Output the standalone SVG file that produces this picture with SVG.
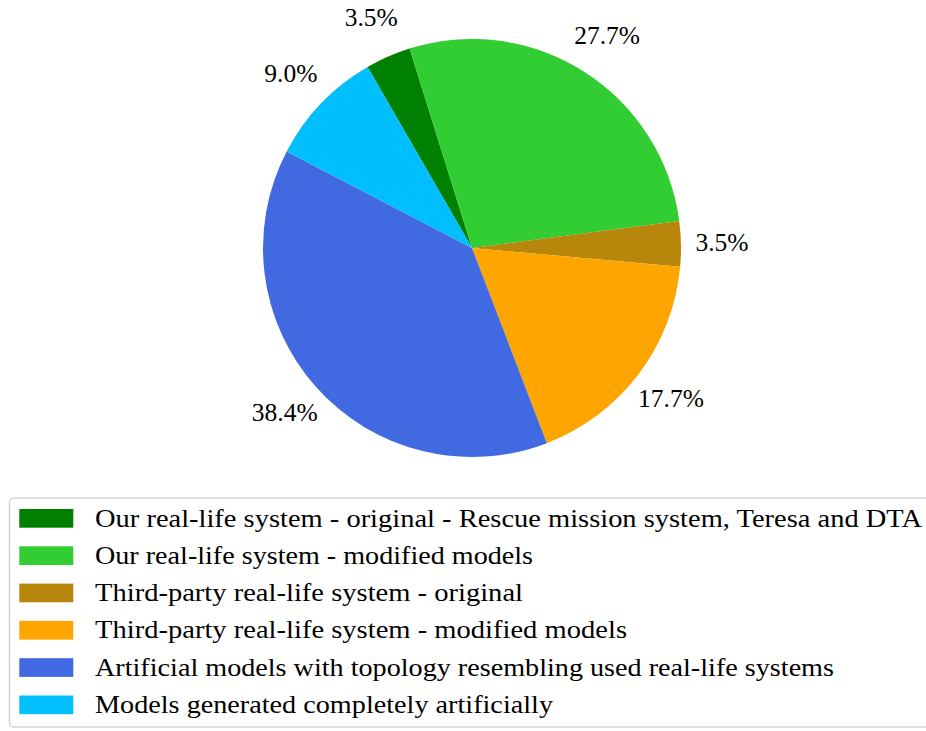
<svg xmlns="http://www.w3.org/2000/svg" width="926" height="731" viewBox="0 0 926 731">
<style>
.pct{font-family:'Times New Roman','Liberation Serif','DejaVu Serif',Times,serif;font-size:25.5px;fill:#000;text-anchor:middle}
.lg{font-family:'Times New Roman','Liberation Serif','DejaVu Serif',Times,serif;font-size:26px;fill:#000}
</style>
<rect x="0" y="0" width="926" height="731" fill="#ffffff"/>
<g id="pie">
<g id="slice-our-original"><path d="M472,248 L367.5,67.0 A209,209 0 0 1 409.59,48.54 Z" fill="#008000"/></g>
<g id="slice-our-modified"><path d="M472,248 L409.59,48.54 A209,209 0 0 1 679.23,220.88 Z" fill="#32CD32"/></g>
<g id="slice-third-original"><path d="M472,248 L679.23,220.88 A209,209 0 0 1 680.15,266.83 Z" fill="#B8860B"/></g>
<g id="slice-third-modified"><path d="M472,248 L680.15,266.83 A209,209 0 0 1 546.83,443.14 Z" fill="#FFA500"/></g>
<g id="slice-artificial-topology"><path d="M472,248 L546.83,443.14 A209,209 0 0 1 286.68,151.38 Z" fill="#4169E1"/></g>
<g id="slice-artificial"><path d="M472,248 L286.68,151.38 A209,209 0 0 1 367.5,67.0 Z" fill="#00BFFF"/></g>
</g>
<g id="labels">
<text class="pct" x="371.2" y="25.8">3.5%</text>
<text class="pct" x="607.1" y="44.2">27.7%</text>
<text class="pct" x="722.0" y="250.5">3.5%</text>
<text class="pct" x="671.0" y="406.8">17.7%</text>
<text class="pct" x="284.8" y="421.4">38.4%</text>
<text class="pct" x="290.9" y="81.5">9.0%</text>
</g>
<g id="legend">
<rect x="9.5" y="498" width="940" height="229" rx="4" ry="4" fill="#ffffff" stroke="#d4d4d4" stroke-width="1.5"/>
<g id="leg1"><rect x="19.3" y="509" width="54" height="18.7" fill="#008000"/><text class="lg" x="95" y="526.5" textLength="827" lengthAdjust="spacingAndGlyphs">Our real-life system - original - Rescue mission system, Teresa and DTA</text></g>
<g id="leg2"><rect x="19.3" y="546.3" width="54" height="18.7" fill="#32CD32"/><text class="lg" x="95" y="563.8" textLength="438" lengthAdjust="spacingAndGlyphs">Our real-life system - modified models</text></g>
<g id="leg3"><rect x="19.3" y="583.6" width="54" height="18.7" fill="#B8860B"/><text class="lg" x="95" y="601.1" textLength="428" lengthAdjust="spacingAndGlyphs">Third-party real-life system - original</text></g>
<g id="leg4"><rect x="19.3" y="620.9" width="54" height="18.7" fill="#FFA500"/><text class="lg" x="95" y="638.4" textLength="532" lengthAdjust="spacingAndGlyphs">Third-party real-life system - modified models</text></g>
<g id="leg5"><rect x="19.3" y="658.2" width="54" height="18.7" fill="#4169E1"/><text class="lg" x="95" y="675.7" textLength="739" lengthAdjust="spacingAndGlyphs">Artificial models with topology resembling used real-life systems</text></g>
<g id="leg6"><rect x="19.3" y="695.5" width="54" height="18.7" fill="#00BFFF"/><text class="lg" x="95" y="713.0" textLength="458" lengthAdjust="spacingAndGlyphs">Models generated completely artificially</text></g>
</g>
</svg>
